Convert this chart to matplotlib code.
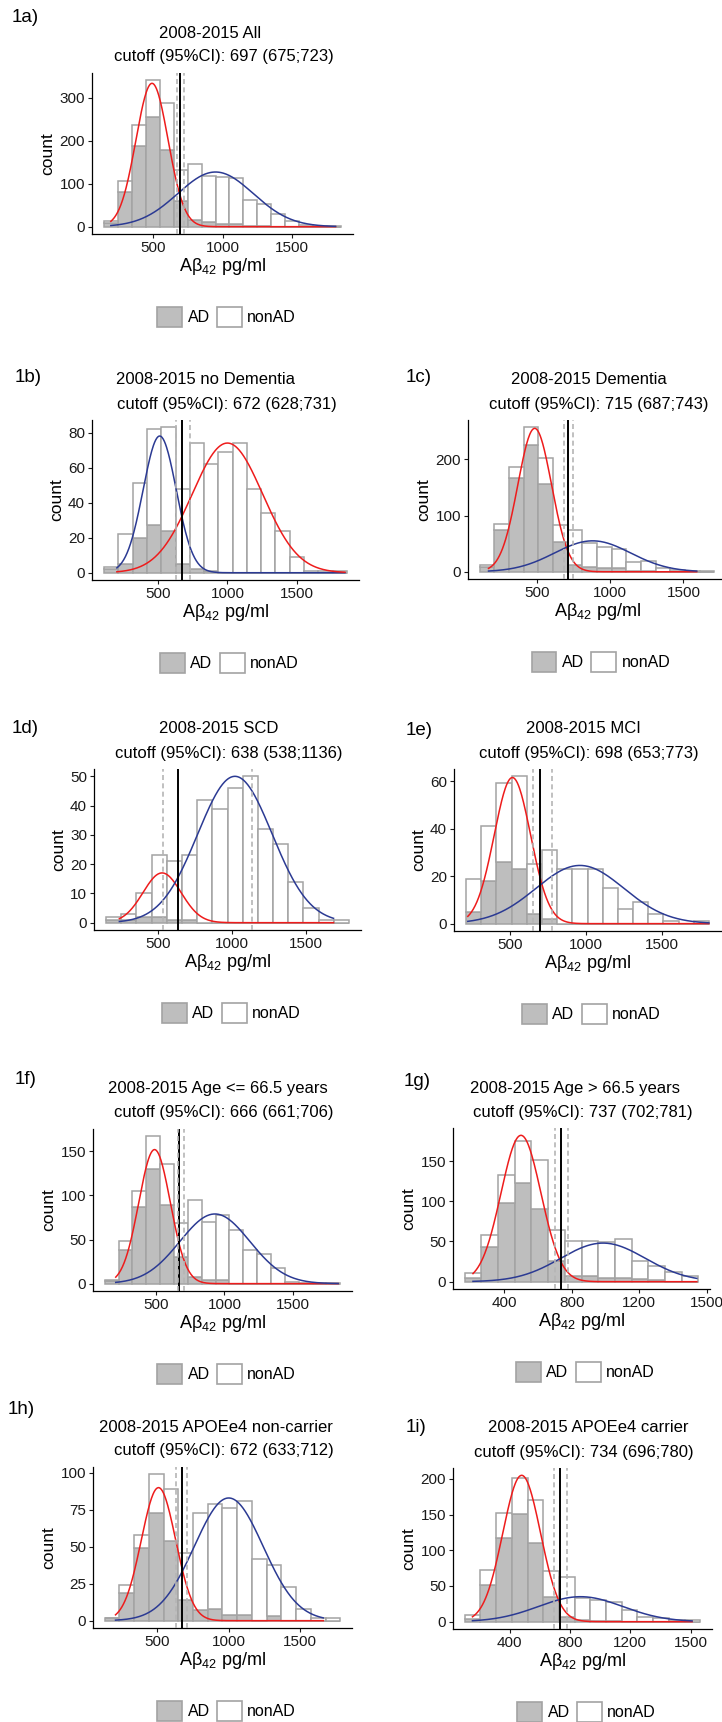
import numpy as np
import matplotlib
matplotlib.use("Agg")
import matplotlib.pyplot as plt
from matplotlib.patches import Patch

plt.rcParams['font.family'] = ['Liberation Sans', 'DejaVu Sans']
plt.rcParams['mathtext.fontset'] = 'custom'
plt.rcParams['mathtext.rm'] = 'Liberation Sans'
plt.rcParams['mathtext.default'] = 'regular'

# ---------------- data ----------------
panel_ids = ["1a)", "1b)", "1c)", "1d)", "1e)", "1f)", "1g)", "1h)", "1i)"]
subgroups = ["2008-2015 All", "2008-2015 no Dementia", "2008-2015 Dementia",
             "2008-2015 SCD", "2008-2015 MCI", "2008-2015 Age <= 66.5 years",
             "2008-2015 Age > 66.5 years", "2008-2015 APOEe4 non-carrier",
             "2008-2015 APOEe4 carrier"]
cutoffs = [697, 672, 715, 638, 698, 666, 737, 672, 734]
ci_low = [675, 628, 687, 538, 653, 661, 702, 633, 696]
ci_high = [723, 731, 743, 1136, 773, 706, 781, 712, 780]

# histogram bins: first edge, bin width (pg/ml)
bin_start = [150, 108, 110, 154, 210, 127, 167, 135, 103]
bin_width = [100, 103.3, 100, 102, 100, 101, 98.7, 102.7, 104]

ad_1a = [8, 80, 187, 254, 179, 59, 15, 10, 7, 7, 2, 1, 0, 0, 0, 0, 0]
nonad_1a = [6, 25, 50, 86, 108, 73, 131, 107, 108, 106, 60, 51, 30, 13, 3, 1, 1]
ad_1b = [2, 5, 20, 27, 24, 5, 2, 1, 0, 0, 0, 0, 0, 0, 0, 0, 0]
nonad_1b = [1, 17, 31, 55, 59, 43, 72, 61, 69, 74, 48, 34, 24, 9, 1, 1, 1]
ad_1c = [8, 75, 166, 226, 156, 53, 12, 8, 7, 6, 2, 2, 0, 0, 0, 0]
nonad_1c = [4, 10, 21, 31, 47, 30, 63, 43, 37, 35, 16, 18, 6, 3, 1, 1]
ad_1d = [1, 1, 2, 2, 1, 1, 0, 0, 0, 0, 0, 0, 0, 0, 0, 0]
nonad_1d = [1, 2, 8, 21, 20, 22, 42, 39, 46, 50, 32, 27, 14, 5, 1, 1]
ad_1e = [5, 18, 26, 23, 4, 2, 0, 0, 0, 0, 0, 0, 0, 0, 0, 0]
nonad_1e = [14, 23, 33, 39, 21, 29, 23, 23, 23, 15, 6, 9, 4, 1, 0, 1]
ad_1f = [3, 38, 87, 130, 89, 30, 8, 4, 4, 0, 0, 0, 0, 0, 0, 0, 0]
nonad_1f = [1, 10, 18, 37, 47, 39, 87, 66, 74, 61, 38, 34, 18, 2, 1, 1, 1]
ad_1g = [5, 43, 98, 123, 91, 26, 7, 7, 4, 4, 3, 2, 0, 0]
nonad_1g = [6, 15, 35, 52, 60, 38, 44, 43, 45, 49, 23, 18, 12, 7]
ad_1h = [2, 19, 49, 73, 54, 14, 7, 8, 4, 4, 0, 3, 0, 0, 0, 0]
nonad_1h = [0, 5, 9, 26, 35, 32, 66, 71, 72, 77, 42, 35, 23, 8, 2, 2]
ad_1i = [4, 52, 117, 151, 110, 34, 6, 3, 1, 1, 0, 0, 0, 0, 0]
nonad_1i = [6, 21, 35, 50, 60, 37, 57, 30, 30, 27, 17, 7, 5, 2, 2]

ad_counts = [ad_1a, ad_1b, ad_1c, ad_1d, ad_1e, ad_1f, ad_1g, ad_1h, ad_1i]
nonad_counts = [nonad_1a, nonad_1b, nonad_1c, nonad_1d, nonad_1e, nonad_1f,
                nonad_1g, nonad_1h, nonad_1i]

# fitted normal components: (mean, sd, peak count); first = low component
low_comp = [(495, 115, 333), (510, 120, 78), (485, 115, 255), (530, 128, 17),
            (515, 120, 61.5), (490, 115, 152), (500, 118, 182), (510, 120, 90),
            (480, 125, 205)]
high_comp = [(950, 270, 127), (1000, 255, 74), (880, 260, 55), (1020, 250, 50),
             (960, 290, 24.5), (930, 255, 79), (985, 250, 48), (1000, 240, 83),
             (870, 280, 35)]
low_color = ["red", "blue", "red", "red", "red", "red", "red", "red", "red"]
curve_range = [(200, 1810), (200, 1850), (170, 1590), (243, 1683), (221, 1810),
               (207, 1829), (216, 1540), (210, 1660), (154, 1609)]

yticks = [[0, 100, 200, 300], [0, 20, 40, 60, 80], [0, 100, 200],
          [0, 10, 20, 30, 40, 50], [0, 20, 40, 60], [0, 50, 100, 150],
          [0, 50, 100, 150], [0, 25, 50, 75, 100], [0, 50, 100, 150, 200]]
xticks_std = [500, 1000, 1500]
xticklabels_std = ["500", "1000", "1500"]
xticks_alt = [400, 800, 1200, 1600]
xticklabels_alt = ["400", "800", "1200", "1500"]
legend_labels = ["AD", "nonAD"]

# ---------------- layout (pixels) ----------------
W, H = 722, 1722
# axes boxes: left, right, top, bottom
boxes = [(92, 353, 73, 234), (92, 359, 420, 580), (468, 726, 420, 579),
         (94, 361, 769, 930), (454, 721, 769, 931), (93, 352, 1129, 1291),
         (453, 710, 1128, 1289), (93, 352, 1467, 1628), (453, 712, 1468, 1629)]
label_pos = [(12, 18), (15, 377), (406, 377), (12, 728), (406, 730),
             (15, 1080), (404, 1081), (8, 1409), (406, 1427)]
title1_dx = [-12.5, -20.5, -8, -8.5, -4.5, -4.5, -6.5, -6.5, 5.5]

RED = "#EE1C1C"
BLUE = "#2B3A93"
GREY = "#BEBEBE"
EDGE = "#A3A3A3"

fig = plt.figure(figsize=(W / 100, H / 100), dpi=100)


def fx(x):
    return x / W


def fy(y):
    return 1 - y / H


for i in range(9):
    l, r, t, b = boxes[i]
    ax = fig.add_axes([fx(l), fy(b), (r - l) / W, (b - t) / H])
    ad = np.array(ad_counts[i], dtype=float)
    non = np.array(nonad_counts[i], dtype=float)
    n = len(ad)
    w = bin_width[i]
    lefts = bin_start[i] + w * np.arange(n)
    ax.bar(lefts, ad, width=w, align='edge', color=GREY, edgecolor=EDGE,
           linewidth=1.1, zorder=2)
    ax.bar(lefts, non, bottom=ad, width=w, align='edge', color='white',
           edgecolor=EDGE, linewidth=1.1, zorder=2)

    x0, x1 = curve_range[i]
    xs = np.linspace(x0, x1, 400)
    cl = RED if low_color[i] == "red" else BLUE
    ch = BLUE if low_color[i] == "red" else RED
    m, s, pk = low_comp[i]
    ax.plot(xs, pk * np.exp(-0.5 * ((xs - m) / s) ** 2), color=cl, lw=1.1, zorder=3)
    m2, s2, pk2 = high_comp[i]
    ax.plot(xs, pk2 * np.exp(-0.5 * ((xs - m2) / s2) ** 2), color=ch, lw=1.1, zorder=3)

    ax.axvline(cutoffs[i], color='black', lw=1.4, zorder=4)
    for c in (ci_low[i], ci_high[i]):
        ax.axvline(c, color='#B5B5B5', lw=1.2, ls=(0, (3, 2)), zorder=5)

    span = n * w
    ax.set_xlim(bin_start[i] - 0.05 * span, bin_start[i] + 1.05 * span)
    M = max((ad + non).max(), pk, pk2)
    ax.set_ylim(-0.05 * M, 1.05 * M)
    ax.set_yticks(yticks[i])
    if i in (6, 8):
        ax.set_xticks(xticks_alt)
        ax.set_xticklabels(xticklabels_alt)
    else:
        ax.set_xticks(xticks_std)
        ax.set_xticklabels(xticklabels_std)

    for sp in ("top", "right"):
        ax.spines[sp].set_visible(False)
    for sp in ("left", "bottom"):
        ax.spines[sp].set_linewidth(0.9)
        ax.spines[sp].set_color('black')
    ax.tick_params(direction='out', length=3, width=0.8, labelsize=11,
                   pad=2, colors='#1a1a1a')
    ax.set_facecolor('none')
    ax.set_ylabel("count", fontsize=12.5, labelpad=3)
    ax.set_xlabel(r"A$\beta_{42}$ pg/ml", fontsize=13, labelpad=1)

    cx = (l + r) / 2
    fig.text(fx(cx + title1_dx[i]), fy(t - 40), subgroups[i], ha='center',
             va='center', fontsize=12)
    fig.text(fx(cx + 1.5), fy(t - 16),
             "cutoff (95%%CI): %d (%d;%d)" % (cutoffs[i], ci_low[i], ci_high[i]),
             ha='center', va='center', fontsize=12)
    lx, ly = label_pos[i]
    fig.text(fx(lx), fy(ly), panel_ids[i], ha='left', va='center', fontsize=13.5)

    handles = [Patch(facecolor=GREY, edgecolor=EDGE, lw=1.2),
               Patch(facecolor='white', edgecolor=EDGE, lw=1.2)]
    ax.legend(handles, legend_labels, loc='center',
              bbox_to_anchor=(fx(cx + 4), fy(b + 83)),
              bbox_transform=fig.transFigure, ncol=2, frameon=False,
              fontsize=11.5, handlelength=1.55, handleheight=1.55,
              handletextpad=0.35, columnspacing=0.45, borderpad=0,
              borderaxespad=0)

fig.savefig("out.png", dpi=100)
